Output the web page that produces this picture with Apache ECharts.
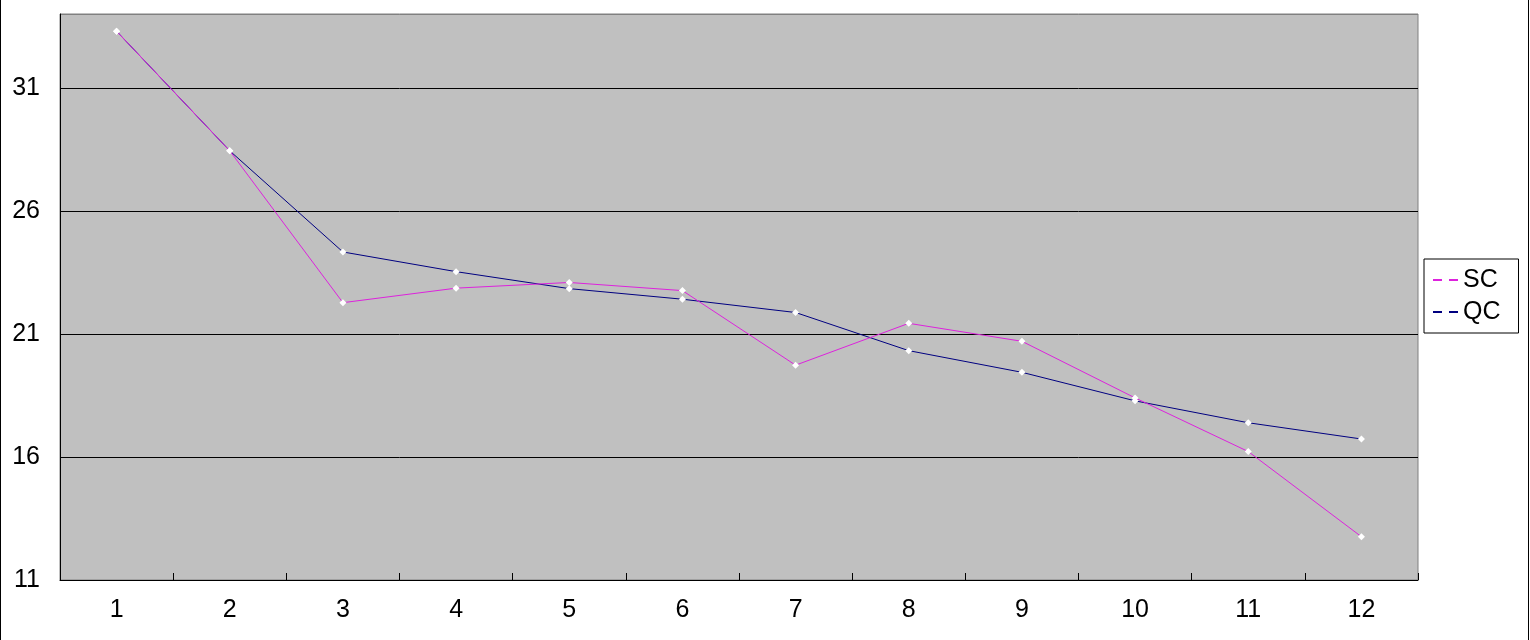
<!DOCTYPE html>
<html>
<head>
<meta charset="utf-8">
<script src="https://cdn.jsdelivr.net/npm/echarts@6/dist/echarts.min.js"></script>
<style>
html,body{margin:0;padding:0;background:#fff;}
#wrap{position:relative;width:1530px;height:640px;}
#chart{width:1530px;height:640px;}
.edge{position:absolute;top:0;width:1px;height:640px;background:#000;}
</style>
</head>
<body>
<div id="wrap">
<div id="chart"></div>
<div class="edge" style="left:0"></div>
<div class="edge" style="left:1528px"></div>
</div>
<script>
const categories = ['1','2','3','4','5','6','7','8','9','10','11','12'];
const seriesNames = ['SC','QC'];
const scValues = [33.30, 28.44, 22.27, 22.86, 23.09, 22.76, 19.73, 21.43, 20.70, 18.40, 16.22, 12.76];
const qcValues = [33.30, 28.44, 24.33, 23.53, 22.84, 22.41, 21.87, 20.32, 19.44, 18.28, 17.39, 16.73];
const yTicks = [11, 16, 21, 26, 31];

const SC_COLOR = '#DD22DD';
const QC_COLOR = '#000080';
const FONT = 'Liberation Sans, Arial, sans-serif';
const dashIcon = 'path://M0,0L9,0L9,2L0,2Z M16,0L25,0L25,2L16,2Z';

const chart = echarts.init(document.getElementById('chart'), null, {renderer:'canvas'});
chart.setOption({
  animation: false,
  backgroundColor: '#ffffff',
  textStyle: {fontFamily: FONT},
  grid: {
    left: 60, right: 112, top: 14, bottom: 60,
    show: true, backgroundColor: '#C0C0C0', borderColor: '#808080', borderWidth: 1
  },
  legend: {
    orient: 'vertical',
    left: 1424, top: 259,
    padding: [8, 18, 8, 9],
    itemGap: 6,
    itemWidth: 25, itemHeight: 2,
    backgroundColor: '#ffffff',
    borderColor: '#000000', borderWidth: 1,
    icon: dashIcon,
    textStyle: {fontSize: 25, lineHeight: 26, color: '#000', fontFamily: FONT},
    data: [
      {name: seriesNames[0], itemStyle: {color: SC_COLOR}},
      {name: seriesNames[1], itemStyle: {color: QC_COLOR}}
    ]
  },
  xAxis: {
    type: 'category',
    data: categories,
    boundaryGap: true,
    axisLine: {show: true, lineStyle: {color: '#000', width: 1}},
    axisTick: {show: true, inside: true, length: 7, lineStyle: {color: '#000'}},
    axisLabel: {fontSize: 25, color: '#000', margin: 18, fontFamily: FONT},
    splitLine: {show: false}
  },
  yAxis: {
    type: 'value',
    min: 11, max: 34, interval: 5,
    axisLine: {show: true, lineStyle: {color: '#000', width: 1}},
    axisTick: {show: false},
    axisLabel: {
      fontSize: 25, color: '#000', margin: 20, fontFamily: FONT,
      showMaxLabel: false,
      formatter: function (v) { return yTicks.indexOf(v) >= 0 ? String(v) : ''; }
    },
    splitLine: {show: true, lineStyle: {color: ['#000','#000','#000','#000','#000','#808080'], width: 1}}
  },
  series: [
    {
      name: seriesNames[0], type: 'line', data: scValues,
      color: SC_COLOR,
      symbol: 'diamond', symbolSize: 7, showSymbol: true,
      lineStyle: {color: SC_COLOR, width: 1},
      itemStyle: {color: '#ffffff', borderWidth: 0},
      z: 3
    },
    {
      name: seriesNames[1], type: 'line', data: qcValues,
      color: QC_COLOR,
      symbol: 'diamond', symbolSize: 7, showSymbol: true,
      lineStyle: {color: QC_COLOR, width: 1},
      itemStyle: {color: '#ffffff', borderWidth: 0},
      z: 2
    }
  ]
});
</script>
</body>
</html>
